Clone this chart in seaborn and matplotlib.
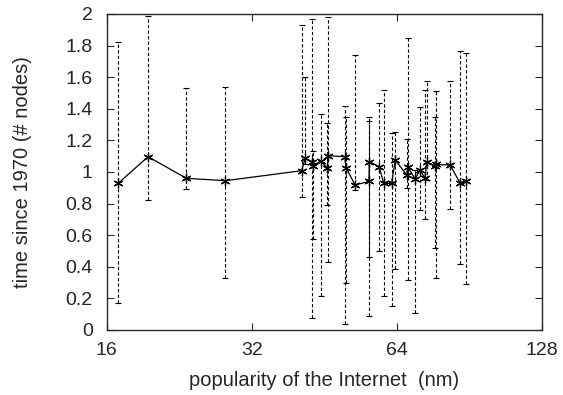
import numpy as np
import pandas as pd
import matplotlib
matplotlib.use("Agg")
import matplotlib.pyplot as plt
import seaborn as sns

# data
x_vals = [16.9, 19.5, 23.4, 28.2, 40.6, 41.3, 42.7, 42.9, 44.5, 45.9, 46.1,
          49.9, 50.2, 52.4, 56.0, 56.1, 58.8, 60.1, 62.4, 63.5, 67.1, 67.4,
          69.8, 71.5, 73.2, 73.8, 76.6, 77.0, 82.5, 86.5, 88.9]
y_vals = [0.928, 1.097, 0.960, 0.945, 1.008, 1.087, 1.065, 1.040, 1.070, 1.023, 1.103,
          1.097, 1.027, 0.918, 0.940, 1.065, 1.034, 0.928, 0.928, 1.076, 0.980, 1.034,
          0.956, 1.013, 0.960, 1.065, 1.040, 1.048, 1.044, 0.932, 0.940]
y_low = [0.17, 0.82, 0.89, 0.33, 0.84, 1.05, 0.075, 0.575, 0.215, 0.79, 0.43,
         0.04, 0.30, 0.886, 0.089, 0.46, 0.50, 0.215, 0.15, 0.384, 0.90, 0.316,
         0.11, 0.76, 0.70, 0.95, 0.52, 0.33, 0.766, 0.42, 0.29]
y_high = [1.82, 1.99, 1.53, 1.54, 1.93, 1.60, 1.97, 1.13, 1.37, 1.31, 1.98,
          1.42, 1.35, 1.74, 1.346, 1.32, 1.435, 1.52, 1.245, 1.25, 1.21, 1.846,
          1.01, 1.41, 1.52, 1.576, 1.35, 1.51, 1.576, 1.768, 1.75]
x_ticks = [16, 32, 64, 128]
y_ticks = [0, 0.2, 0.4, 0.6, 0.8, 1, 1.2, 1.4, 1.6, 1.8, 2]
y_tick_labels = ["0", "0.2", "0.4", "0.6", "0.8", "1", "1.2", "1.4", "1.6", "1.8", "2"]

df = pd.DataFrame({"x": x_vals, "y": y_vals, "lo": y_low, "hi": y_high})

sns.set_style("ticks")
plt.rcParams["font.family"] = ["Liberation Sans", "DejaVu Sans"]

fig = plt.figure(figsize=(5.63, 3.95), dpi=100)
ax = fig.add_axes([0.1895, 0.1646, 0.7732, 0.8000])

yerr = np.vstack([df["y"] - df["lo"], df["hi"] - df["y"]])
eb = ax.errorbar(df["x"], df["y"], yerr=yerr, fmt="none", ecolor="black",
                 elinewidth=0.8, capsize=2, capthick=0.8)
for lc in eb[2]:
    lc.set_linestyle((0, (3, 2)))

sns.lineplot(data=df, x="x", y="y", ax=ax, color="black", linewidth=0.9,
             marker=(6, 2, 0), markersize=7, markeredgewidth=0.9,
             markeredgecolor="black", sort=True, estimator=None)

ax.set_xscale("log", base=2)
ax.set_xlim(16, 128)
ax.set_ylim(0, 2)
ax.set_xticks(x_ticks)
ax.set_xticklabels([str(t) for t in x_ticks])
ax.xaxis.set_minor_locator(matplotlib.ticker.NullLocator())
ax.set_yticks(y_ticks)
ax.set_yticklabels(y_tick_labels)
ax.tick_params(direction="in", top=True, right=True, length=5, width=0.8,
               labelsize=14)
ax.tick_params(axis="x", pad=9)
ax.tick_params(axis="y", pad=10)
for s in ax.spines.values():
    s.set_linewidth(1.0)
    s.set_visible(True)

ax.set_xlabel("popularity of the Internet  (nm)", fontsize=14.5, labelpad=8)
ax.set_ylabel("time since 1970 (# nodes)", fontsize=14.5, labelpad=24)

fig.savefig("out.png", dpi=100)
